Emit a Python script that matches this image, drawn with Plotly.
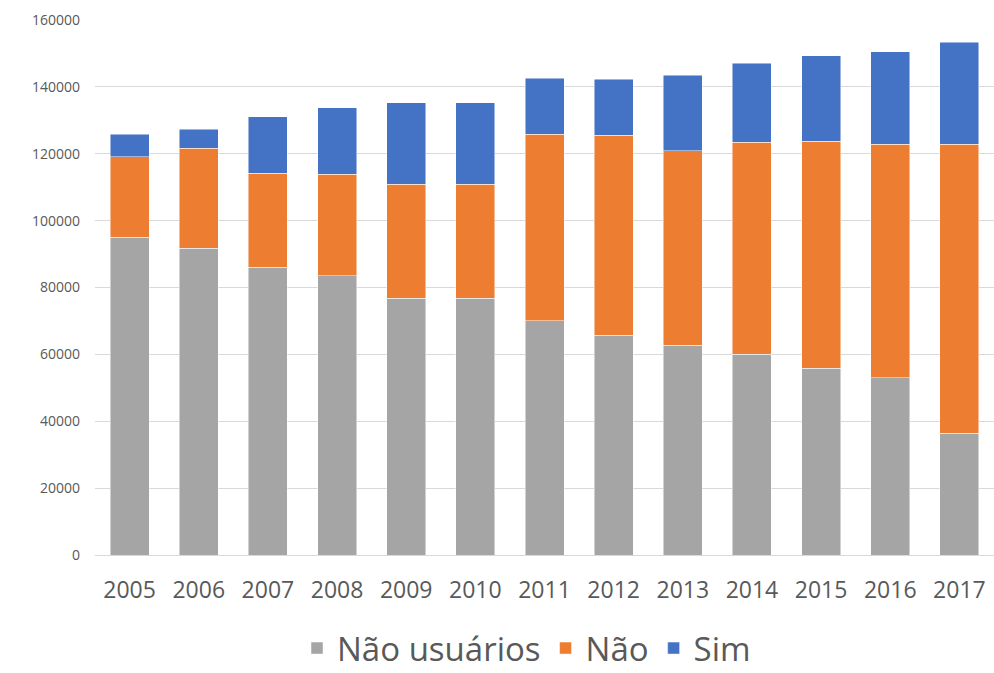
import plotly.graph_objects as go

years = ["2005", "2006", "2007", "2008", "2009", "2010", "2011",
         "2012", "2013", "2014", "2015", "2016", "2017"]

# Stack totals
nao_usuarios = [95100, 91800, 86100, 83500, 76800, 76800, 70000,
                65700, 62800, 60100, 55800, 53000, 36400]
nao_top = [119100, 121700, 114200, 113900, 110900, 110900, 125900,
           125500, 120900, 123500, 123800, 122900, 122900]
sim_top = [125800, 127400, 131000, 133800, 135300, 135300, 142600,
           142300, 143500, 147000, 149300, 150500, 153300]

nao = [t - b for t, b in zip(nao_top, nao_usuarios)]
sim = [t - b for t, b in zip(sim_top, nao_top)]

y_ticks = [0, 20000, 40000, 60000, 80000, 100000, 120000, 140000, 160000]

series = [
    ("Não usuários", nao_usuarios, "#A5A5A5"),
    ("Não", nao, "#ED7D31"),
    ("Sim", sim, "#4472C4"),
]

fig = go.Figure()
for name, vals, color in series:
    fig.add_trace(go.Bar(
        x=years, y=vals, name=name,
        marker=dict(color=color, line=dict(color="rgba(255,255,255,0.6)", width=0.8)),
    ))

fig.update_layout(
    barmode="stack",
    bargap=0.436,
    width=994, height=673,
    margin=dict(l=95, r=0, t=20, b=118, autoexpand=False),
    paper_bgcolor="white",
    plot_bgcolor="white",
    font=dict(family="Open Sans", color="#595959"),
    legend=dict(
        orientation="h",
        x=0.48, xanchor="center",
        y=-0.174, yanchor="middle",
        font=dict(size=33, color="#595959", family="Open Sans"),
        itemwidth=30,
        traceorder="normal",
        tracegroupgap=0,
    ),
    xaxis=dict(
        type="category",
        tickfont=dict(size=23, color="#595959"),
        showgrid=False,
        showline=False,
        ticks="",
        ticklabelstandoff=19,
    ),
    yaxis=dict(
        range=[0, 160000],
        tickvals=y_ticks,
        ticktext=[str(v) for v in y_ticks],
        tickfont=dict(size=14, color="#595959"),
        showgrid=True,
        gridcolor="#D9D9D9",
        gridwidth=1.3,
        zeroline=True,
        zerolinecolor="#D9D9D9",
        zerolinewidth=1.3,
        ticks="",
        ticklabelstandoff=14,
    ),
)

fig.write_html(
    "out.html",
    config={"displayModeBar": False},
    post_script="document.body.style.margin='0';document.body.style.overflow='hidden';",
)
